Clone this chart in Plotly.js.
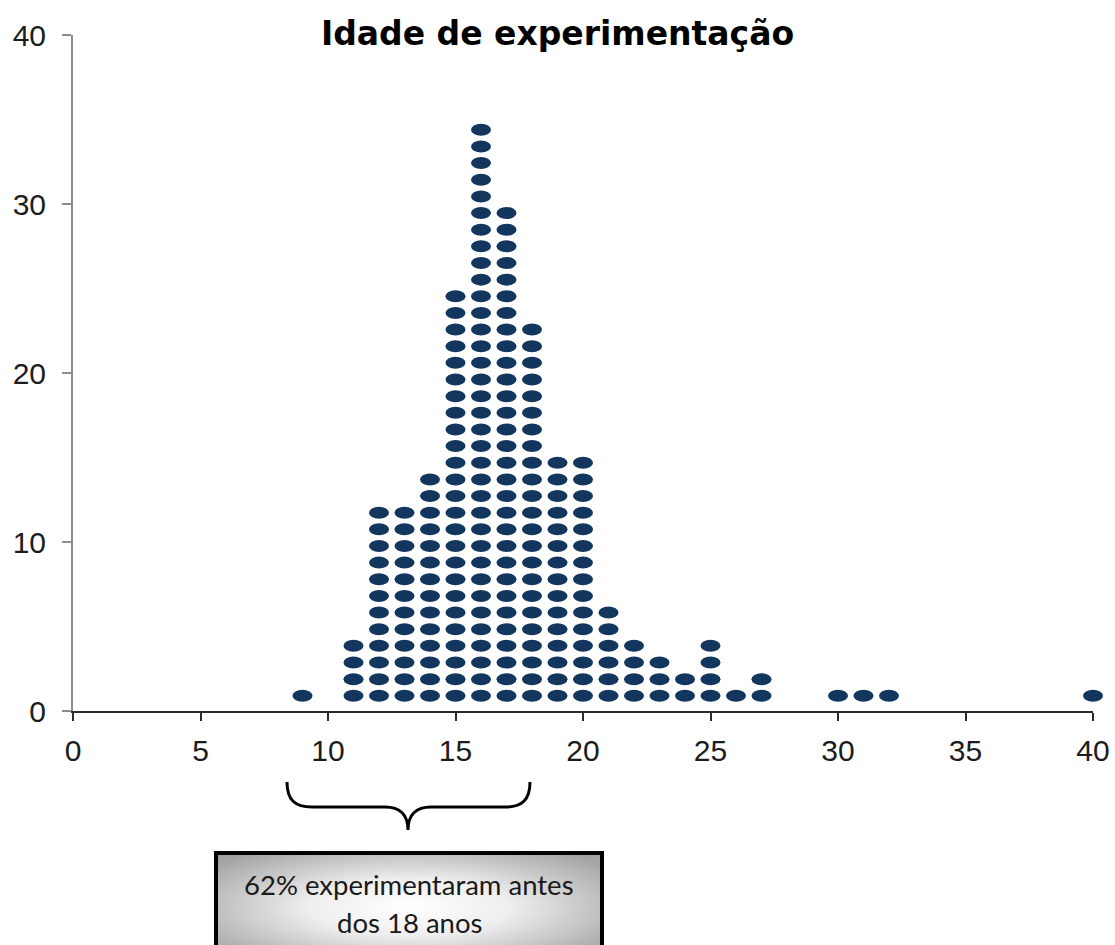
<!DOCTYPE html>
<html>
<head>
<meta charset="utf-8">
<script src="https://cdn.plot.ly/plotly-3.0.1.min.js"></script>
<style>
  html, body { margin: 0; padding: 0; background: #ffffff; }
  #chart { width: 1115px; height: 945px; }
</style>
</head>
<body>
<div id="chart"></div>
<script>
// ---- data ----
const ages   = [9, 11, 12, 13, 14, 15, 16, 17, 18, 19, 20, 21, 22, 23, 24, 25, 26, 27, 30, 31, 32, 40];
const counts = [1, 4, 12, 12, 14, 25, 35, 30, 23, 15, 15, 6, 4, 3, 2, 4, 1, 2, 1, 1, 1, 1];
const xTickVals = [0, 5, 10, 15, 20, 25, 30, 35, 40];
const yTickVals = [0, 10, 20, 30, 40];
const titleText = "Idade de experimentação";
const noteLines = ["62% experimentaram antes", "dos 18 anos"];

// ---- stacking style (dot plot layout constants) ----
const dotBase = 0.9;    // y of first dot in a stack
const dotStep = 0.985;  // vertical spacing between stacked dots

const xs = [], ys = [];
ages.forEach((a, i) => {
  for (let k = 0; k < counts[i]; k++) {
    xs.push(a);
    ys.push(dotBase + k * dotStep);
  }
});

// plot frame in pixels
const W = 1115, H = 945;
const L = 73, R = 22, T = 35, B = 234;
const pw = W - L - R, ph = H - T - B;
const px = x => (x - L) / pw;
const py = y => (H - B - y) / ph;

// brace path (pixel coords -> paper)
function bracePath() {
  const pts = [
    ['M', [287, 782]],
    ['C', [287, 800], [295, 807], [312, 807]],
    ['L', [385, 807]],
    ['C', [400, 807], [408, 815], [408, 830]],
    ['C', [408, 815], [416, 807], [431, 807]],
    ['L', [505, 807]],
    ['C', [522, 807], [530, 800], [530, 782]]
  ];
  return pts.map(seg => seg[0] + ' ' + seg.slice(1).map(p => px(p[0]).toFixed(5) + ',' + py(p[1]).toFixed(5)).join(' ')).join(' ');
}

const boxL = 216, boxR = 602, boxT = 853, boxB = 962;
const gradSvg = '<svg xmlns="http://www.w3.org/2000/svg" width="386" height="109" viewBox="0 0 386 109" preserveAspectRatio="none">' +
  '<defs><radialGradient id="g" cx="0.5" cy="0.5" r="0.65">' +
  '<stop offset="0" stop-color="#ffffff"/><stop offset="0.4" stop-color="#eeeeee"/><stop offset="1" stop-color="#a2a2a2"/>' +
  '</radialGradient></defs><rect x="0" y="0" width="386" height="109" fill="url(#g)"/></svg>';
const gradUri = 'data:image/svg+xml;base64,' + btoa(gradSvg);

const trace = {
  type: 'scatter',
  mode: 'markers',
  x: xs,
  y: ys,
  cliponaxis: false,
  marker: { symbol: 'circle', size: 12, color: '#13365e', line: { width: 0 } },
  hoverinfo: 'x'
};

const tickFont = { family: 'Liberation Sans, Arial, sans-serif', size: 30, color: '#1c1c1c' };

const layout = {
  width: W, height: H,
  margin: { l: L, r: R, t: T, b: B, pad: 0 },
  paper_bgcolor: '#ffffff',
  plot_bgcolor: '#ffffff',
  showlegend: false,
  title: {
    text: '<b>' + titleText + '</b>',
    font: { family: 'DejaVu Sans, sans-serif', size: 33, color: '#000000' },
    x: 0.5, xanchor: 'center',
    y: 1 - 33 / H, yanchor: 'middle', yref: 'container'
  },
  xaxis: {
    range: [0, 40],
    tickvals: xTickVals,
    ticktext: xTickVals.map(String),
    showgrid: false, zeroline: false,
    showline: true, linecolor: '#2a2a2a', linewidth: 2,
    ticks: 'outside', ticklen: 8, tickwidth: 2, tickcolor: '#2a2a2a',
    tickfont: tickFont,
    ticklabelstandoff: 4,
    fixedrange: true
  },
  yaxis: {
    range: [0, 40],
    tickvals: yTickVals,
    ticktext: yTickVals.map(String),
    showgrid: false, zeroline: false,
    showline: true, linecolor: '#8c8c8c', linewidth: 2,
    ticks: 'outside', ticklen: 9, tickwidth: 2, tickcolor: '#8c8c8c',
    tickfont: tickFont,
    ticklabelstandoff: 10,
    fixedrange: true
  },
  images: [{
    source: gradUri,
    xref: 'paper', yref: 'paper',
    x: px(boxL), y: py(boxT),
    sizex: px(boxR) - px(boxL), sizey: py(boxT) - py(boxB),
    xanchor: 'left', yanchor: 'top',
    sizing: 'stretch', layer: 'above'
  }],
  shapes: [
    {
      type: 'path', xref: 'paper', yref: 'paper',
      path: bracePath(),
      line: { color: '#000000', width: 3 },
      fillcolor: 'rgba(0,0,0,0)'
    },
    {
      type: 'rect', xref: 'paper', yref: 'paper',
      x0: px(boxL), x1: px(boxR), y0: py(boxT), y1: py(boxB),
      line: { color: '#000000', width: 4 },
      fillcolor: 'rgba(0,0,0,0)'
    }
  ],
  annotations: [
    {
      text: noteLines[0], xref: 'paper', yref: 'paper',
      x: px((boxL + boxR) / 2), y: py(884), xanchor: 'center', yanchor: 'middle',
      showarrow: false,
      font: { family: 'Lato, Open Sans, sans-serif', size: 27.5, color: '#1a1a1a' }
    },
    {
      text: noteLines[1], xref: 'paper', yref: 'paper',
      x: px((boxL + boxR) / 2), y: py(922), xanchor: 'center', yanchor: 'middle',
      showarrow: false,
      font: { family: 'Lato, Open Sans, sans-serif', size: 27.5, color: '#1a1a1a' }
    }
  ]
};

Plotly.newPlot('chart', [trace], layout, { staticPlot: true, displayModeBar: false, responsive: false })
  .then(() => {
    // dot-plot markers are horizontal ellipses in the reference
    const ell = 'M10,0A10,6 0 1,1 0,-6A10,6 0 0,1 10,0Z';
    document.querySelectorAll('#chart .scatterlayer .points path.point').forEach(p => p.setAttribute('d', ell));
  });
</script>
</body>
</html>
